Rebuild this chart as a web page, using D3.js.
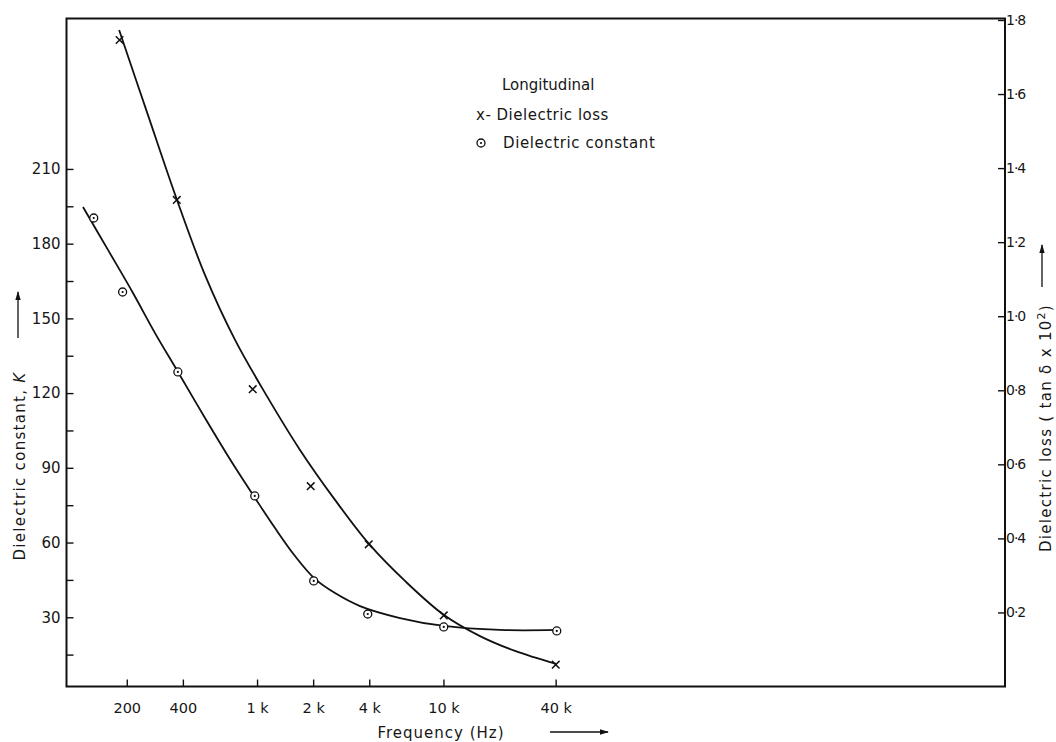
<!DOCTYPE html>
<html>
<head>
<meta charset="utf-8">
<script src="https://cdn.jsdelivr.net/npm/d3@7"></script>
<style>
  body { margin: 0; background: #fff; }
  text { font-family: "DejaVu Sans", sans-serif; fill: #161616; }
</style>
</head>
<body>
<script>
// axis ticks
const freqTicks = [200, 400, 1000, 2000, 4000, 10000, 40000];
const freqLabels = ["200", "400", "1 k", "2 k", "4 k", "10 k", "40 k"];
const kTicks = [15, 30, 45, 60, 75, 90, 105, 120, 135, 150, 165, 180, 195, 210];
const lossTicks = [0.2, 0.4, 0.6, 0.8, 1.0, 1.2, 1.4, 1.6, 1.8];
const lossLabels = ["0·2", "0·4", "0·6", "0·8", "1·0", "1·2", "1·4", "1·6", "1·8"];

// measured points (x markers = dielectric loss, circles = dielectric constant)
const lossFreq = [183, 371, 948, 1941, 3974, 10040, 40050];
const lossValue = [1.746, 1.314, 0.803, 0.541, 0.384, 0.192, 0.059];
const constFreq = [133, 190, 376, 972, 2014, 3926, 10040, 40550];
const constValue = [190.3, 160.6, 128.5, 78.7, 44.6, 31.3, 26.1, 24.5];

// hand drawn fitted curves
const lossCurveFreq = [182, 260, 372, 526, 762, 1103, 1700, 2620, 3988, 6220, 10070, 15710, 24210, 40180];
const lossCurveValue = [1.773, 1.543, 1.314, 1.111, 0.936, 0.793, 0.639, 0.504, 0.385, 0.285, 0.193, 0.136, 0.096, 0.061];
const constCurveFreq = [116.5, 158.6, 216, 283.6, 376.6, 525.8, 743, 975, 1249, 1598, 2046, 2620, 3568, 5848, 10070, 20110, 40680];
const constCurveValue = [194.7, 177.5, 160.2, 144.1, 128.5, 110.0, 91.5, 77.9, 65.8, 54.6, 45.4, 39.7, 34.5, 29.7, 26.5, 24.9, 24.9];

const width = 1056;
const height = 742;
const frame = { left: 66.5, right: 1005, top: 18.5, bottom: 686.5 };

const svg = d3.select("body").append("svg")
  .attr("width", width)
  .attr("height", height);

const x = d3.scaleLog().domain([95, 1.03e7]).range([frame.left, frame.right]);
const yK = d3.scaleLinear().domain([2.2, 270.4]).range([frame.bottom, frame.top]);
const yL = d3.scaleLinear().domain([0, 1.804]).range([frame.bottom, frame.top]);

// frame
svg.append("rect")
  .attr("x", frame.left)
  .attr("y", frame.top)
  .attr("width", frame.right - frame.left)
  .attr("height", frame.bottom - frame.top)
  .attr("fill", "none")
  .attr("stroke", "#111")
  .attr("stroke-width", 2);

// left axis
const leftAxis = svg.append("g")
  .attr("transform", `translate(${frame.left},0)`)
  .call(d3.axisLeft(yK).tickValues(kTicks)
    .tickSizeInner(-7).tickSizeOuter(0).tickPadding(6)
    .tickFormat(d => d % 30 === 0 ? d : ""));
leftAxis.select(".domain").remove();
leftAxis.selectAll("line").attr("stroke", "#111").attr("stroke-width", 1.4);
leftAxis.selectAll("text").attr("font-size", 15).attr("font-family", null);

// right axis
const rightAxis = svg.append("g")
  .attr("transform", `translate(${frame.right},0)`)
  .call(d3.axisRight(yL).tickValues(lossTicks)
    .tickSizeInner(-7).tickSizeOuter(0).tickPadding(1)
    .tickFormat((d, i) => lossLabels[i]));
rightAxis.select(".domain").remove();
rightAxis.selectAll("line").attr("stroke", "#111").attr("stroke-width", 1.4);
rightAxis.selectAll("text").attr("font-size", 14).attr("letter-spacing", -1).attr("font-family", null);

// bottom axis
const bottomAxis = svg.append("g")
  .attr("transform", `translate(0,${frame.bottom})`)
  .call(d3.axisBottom(x).tickValues(freqTicks)
    .tickSizeInner(-7).tickSizeOuter(0).tickPadding(16)
    .tickFormat((d, i) => freqLabels[i]));
bottomAxis.select(".domain").remove();
bottomAxis.selectAll("line").attr("stroke", "#111").attr("stroke-width", 1.4);
bottomAxis.selectAll("text").attr("font-size", 14.5).attr("font-family", null);

// curves
const lossLine = d3.line()
  .x(d => x(d[0])).y(d => yL(d[1]))
  .curve(d3.curveCatmullRom.alpha(0.5));
const constLine = d3.line()
  .x(d => x(d[0])).y(d => yK(d[1]))
  .curve(d3.curveCatmullRom.alpha(0.5));

svg.append("path")
  .datum(d3.zip(lossCurveFreq, lossCurveValue))
  .attr("d", lossLine)
  .attr("fill", "none")
  .attr("stroke", "#111")
  .attr("stroke-width", 1.8);

svg.append("path")
  .datum(d3.zip(constCurveFreq, constCurveValue))
  .attr("d", constLine)
  .attr("fill", "none")
  .attr("stroke", "#111")
  .attr("stroke-width", 1.8);

// markers
function drawCross(g, cx, cy) {
  const s = 3.8;
  g.append("path")
    .attr("d", `M${cx - s},${cy - s}L${cx + s},${cy + s}M${cx - s},${cy + s}L${cx + s},${cy - s}`)
    .attr("stroke", "#111")
    .attr("stroke-width", 1.5);
}
function drawRing(g, cx, cy) {
  g.append("circle")
    .attr("cx", cx).attr("cy", cy).attr("r", 4)
    .attr("fill", "#fff").attr("stroke", "#111").attr("stroke-width", 1.3);
  g.append("circle")
    .attr("cx", cx).attr("cy", cy).attr("r", 1.1)
    .attr("fill", "#111");
}

const marks = svg.append("g");
lossFreq.forEach((f, i) => drawCross(marks, x(f), yL(lossValue[i])));
constFreq.forEach((f, i) => drawRing(marks, x(f), yK(constValue[i])));

// legend
const legend = svg.append("g");
legend.append("text")
  .attr("x", 502).attr("y", 90)
  .attr("font-size", 15)
  .text("Longitudinal");
legend.append("text")
  .attr("x", 476).attr("y", 120)
  .attr("font-size", 15)
  .attr("letter-spacing", 0.5)
  .text("x- Dielectric  loss");
drawRing(legend, 481, 143);
legend.append("text")
  .attr("x", 503).attr("y", 148)
  .attr("font-size", 15)
  .attr("letter-spacing", 0.6)
  .text("Dielectric  constant");

// axis titles
svg.append("text")
  .attr("x", 441).attr("y", 738)
  .attr("text-anchor", "middle")
  .attr("font-size", 15)
  .attr("letter-spacing", 1)
  .text("Frequency  (Hz)");

const leftTitle = svg.append("text")
  .attr("transform", "translate(25,466) rotate(-90)")
  .attr("text-anchor", "middle")
  .attr("font-size", 15)
  .attr("letter-spacing", 1.3);
leftTitle.append("tspan").text("Dielectric  constant, ");
leftTitle.append("tspan").attr("font-style", "italic").text("K");

const rightTitle = svg.append("text")
  .attr("transform", "translate(1051,428) rotate(-90)")
  .attr("text-anchor", "middle")
  .attr("font-size", 15)
  .attr("letter-spacing", 1.3);
rightTitle.append("tspan").text("Dielectric  loss  ( tan δ x 10");
rightTitle.append("tspan").attr("font-size", 11).attr("dy", -6).text("2");
rightTitle.append("tspan").attr("dy", 6).text(")");

// arrows
const defs = svg.append("defs");
defs.append("marker")
  .attr("id", "head")
  .attr("viewBox", "0 0 10 10")
  .attr("refX", 9).attr("refY", 5)
  .attr("markerWidth", 9).attr("markerHeight", 9)
  .attr("markerUnits", "userSpaceOnUse")
  .attr("orient", "auto")
  .append("path")
  .attr("d", "M0,2L10,5L0,8Z")
  .attr("fill", "#111");

const arrows = [
  [550, 732, 608, 732],
  [18, 338, 18, 292],
  [1042, 287, 1042, 245]
];
svg.selectAll(".arrow")
  .data(arrows)
  .join("line")
  .attr("class", "arrow")
  .attr("x1", d => d[0]).attr("y1", d => d[1])
  .attr("x2", d => d[2]).attr("y2", d => d[3])
  .attr("stroke", "#111")
  .attr("stroke-width", 1.3)
  .attr("marker-end", "url(#head)");
</script>
</body>
</html>
